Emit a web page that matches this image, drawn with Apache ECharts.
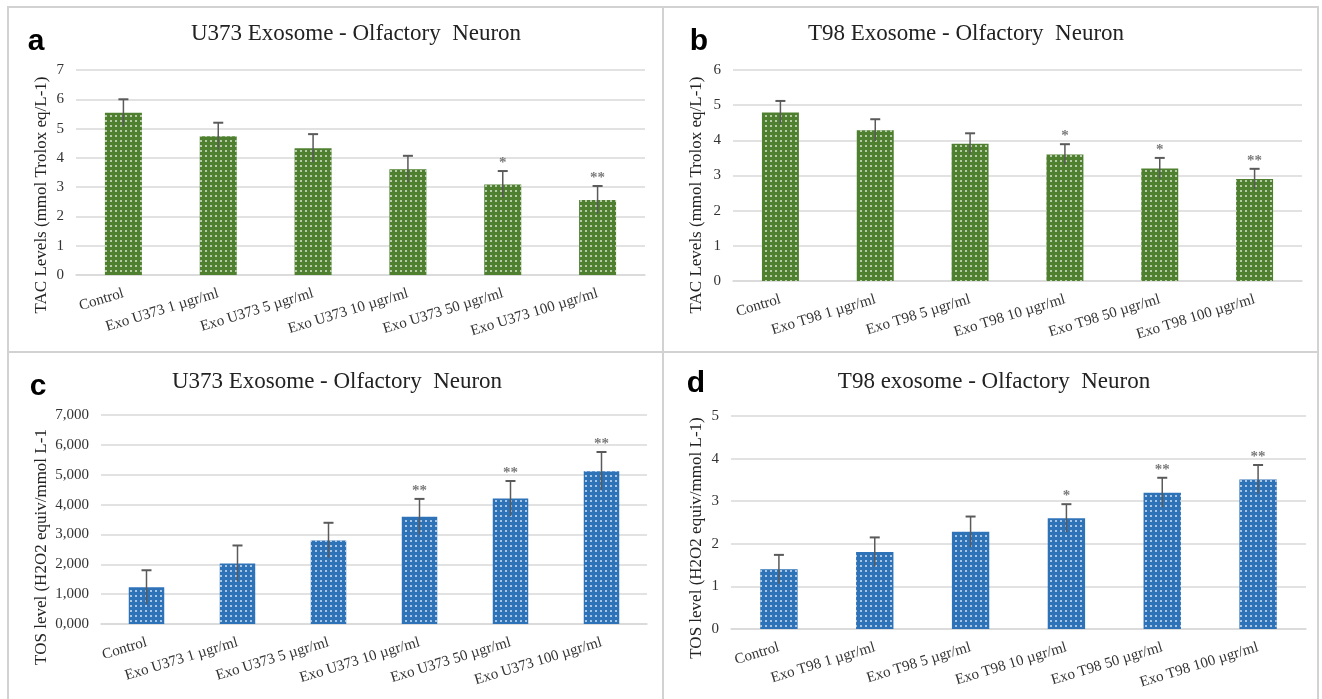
<!DOCTYPE html>
<html>
<head>
<meta charset="utf-8">
<script src="https://cdn.jsdelivr.net/npm/echarts@6/dist/echarts.min.js"></script>
<style>
html,body{margin:0;padding:0;background:#fff;}
#chart{width:1322px;height:699px;}
</style>
</head>
<body>
<div id="chart"></div>
<script>
// ---------- data ----------
const categoriesU373 = ['Control', 'Exo U373 1 µgr/ml', 'Exo U373 5 µgr/ml', 'Exo U373 10 µgr/ml', 'Exo U373 50 µgr/ml', 'Exo U373 100 µgr/ml'];
const categoriesT98 = ['Control', 'Exo T98 1 µgr/ml', 'Exo T98 5 µgr/ml', 'Exo T98 10 µgr/ml', 'Exo T98 50 µgr/ml', 'Exo T98 100 µgr/ml'];

const tacU373 = [5.54, 4.74, 4.33, 3.61, 3.09, 2.56];
const tacU373Err = [0.46, 0.46, 0.48, 0.46, 0.46, 0.48];
const tacU373Sig = ['', '', '', '', '*', '**'];

const tacT98 = [4.79, 4.29, 3.90, 3.60, 3.20, 2.90];
const tacT98Err = [0.33, 0.31, 0.30, 0.29, 0.30, 0.29];
const tacT98Sig = ['', '', '', '*', '*', '**'];

const tosU373 = [1.23, 2.03, 2.80, 3.59, 4.20, 5.12];
const tosU373Err = [0.57, 0.60, 0.59, 0.60, 0.59, 0.64];
const tosU373Sig = ['', '', '', '**', '**', '**'];

const tosT98 = [1.40, 1.81, 2.28, 2.60, 3.20, 3.51];
const tosT98Err = [0.34, 0.34, 0.36, 0.33, 0.35, 0.34];
const tosT98Sig = ['', '', '', '*', '**', '**'];

const tosU373TickLabels = ['0,000', '1,000', '2,000', '3,000', '4,000', '5,000', '6,000', '7,000'];

const titles = ['U373 Exosome - Olfactory  Neuron', 'T98 Exosome - Olfactory  Neuron', 'U373 Exosome - Olfactory  Neuron', 'T98 exosome - Olfactory  Neuron'];
const panelLetters = ['a', 'b', 'c', 'd'];
const yNames = ['TAC Levels (mmol Trolox eq/L-1)', 'TAC Levels (mmol Trolox eq/L-1)', 'TOS level (H2O2 equiv/mmol L-1', 'TOS level (H2O2 equiv/mmol L-1)'];

// ---------- styling ----------
const SERIF = '"Liberation Serif", "Times New Roman", serif';
const GREEN = '#4e8030';
const BLUE = '#2e72b8';
const GRID_C = '#d9d9d9';
const ERR_C = '#5a5a5a';

const panels = [
  {grid: {left: 76, top: 70, width: 569, height: 205}, cats: categoriesU373, vals: tacU373, err: tacU373Err, sig: tacU373Sig, color: GREEN, max: 7, labels: null,
   title: [356, 34], letter: [36, 42], yname: [42, 195]},
  {grid: {left: 733, top: 70, width: 569, height: 211}, cats: categoriesT98, vals: tacT98, err: tacT98Err, sig: tacT98Sig, color: GREEN, max: 6, labels: null,
   title: [966, 34], letter: [699, 42], yname: [697, 195]},
  {grid: {left: 101, top: 415, width: 546, height: 209}, cats: categoriesU373, vals: tosU373, err: tosU373Err, sig: tosU373Sig, color: BLUE, max: 7, labels: tosU373TickLabels,
   title: [337, 382], letter: [38, 387], yname: [42, 547]},
  {grid: {left: 731, top: 416, width: 575, height: 213}, cats: categoriesT98, vals: tosT98, err: tosT98Err, sig: tosT98Sig, color: BLUE, max: 5, labels: null,
   title: [994, 382], letter: [696, 384], yname: [697, 538]}
];

const grids = [], xAxes = [], yAxes = [], series = [], graphics = [];

// panel borders
const borderStyle = {stroke: '#d2d2d2', lineWidth: 2, fill: null};
graphics.push({type: 'rect', shape: {x: 8, y: 7, width: 655, height: 345}, style: borderStyle, silent: true});
graphics.push({type: 'rect', shape: {x: 663, y: 7, width: 655, height: 345}, style: borderStyle, silent: true});
graphics.push({type: 'rect', shape: {x: 8, y: 352, width: 655, height: 360}, style: borderStyle, silent: true});
graphics.push({type: 'rect', shape: {x: 663, y: 352, width: 655, height: 360}, style: borderStyle, silent: true});

panels.forEach((p, k) => {
  grids.push(Object.assign({containLabel: false}, p.grid));
  xAxes.push({
    type: 'category', gridIndex: k, data: p.cats,
    axisLine: {show: true, lineStyle: {color: GRID_C, width: 1.5}},
    axisTick: {show: false},
    axisLabel: {interval: 0, rotate: 17, margin: 18, fontFamily: SERIF, fontSize: 15, color: '#333'}
  });
  const labels = p.labels;
  yAxes.push({
    type: 'value', gridIndex: k, min: 0, max: p.max, interval: 1,
    axisLine: {show: false}, axisTick: {show: false},
    splitLine: {lineStyle: {color: GRID_C, width: 1.5}},
    axisLabel: {margin: 12, fontFamily: SERIF, fontSize: 15, color: '#333',
      formatter: labels ? (v) => labels[Math.round(v)] : (v) => String(v)}
  });
  series.push({
    type: 'bar', xAxisIndex: k, yAxisIndex: k, barWidth: '39%', data: p.vals,
    itemStyle: {
      color: p.color,
      decal: {
        symbol: 'circle', symbolSize: 1, color: 'rgba(255,255,255,0.8)',
        dashArrayX: [2, 3], dashArrayY: [2, 3], rotation: 0
      }
    },
    emphasis: {disabled: true},
    animation: false
  });
  const err = p.err, sig = p.sig;
  series.push({
    type: 'custom', xAxisIndex: k, yAxisIndex: k, z: 5, animation: false,
    data: p.vals.map((v, i) => [i, v]),
    renderItem: function (params, api) {
      const i = api.value(0), v = api.value(1), e = err[params.dataIndex];
      const top = api.coord([i, v + e]);
      const bot = api.coord([i, v - e]);
      const cap = 5;
      const children = [
        {type: 'line', shape: {x1: top[0], y1: top[1], x2: bot[0], y2: bot[1]}, style: {stroke: ERR_C, lineWidth: 1.5}},
        {type: 'line', shape: {x1: top[0] - cap, y1: top[1], x2: top[0] + cap, y2: top[1]}, style: {stroke: ERR_C, lineWidth: 2}}
      ];
      const s = sig[params.dataIndex];
      if (s) {
        children.push({type: 'text', x: top[0], y: top[1] - 8,
          style: {text: s, fill: '#7a7a7a', font: 'bold 15px ' + SERIF, textAlign: 'center', textVerticalAlign: 'middle', align: 'center', verticalAlign: 'middle'}});
      }
      return {type: 'group', children: children};
    }
  });
  graphics.push({type: 'text', x: p.title[0], y: p.title[1],
    style: {text: titles[k], font: '23px ' + SERIF, fill: '#222', textAlign: 'center', textVerticalAlign: 'middle', align: 'center', verticalAlign: 'middle'}});
  graphics.push({type: 'text', x: p.letter[0], y: p.letter[1],
    style: {text: panelLetters[k], font: 'bold 30px "Liberation Sans", Arial, sans-serif', fill: '#000', textAlign: 'center', textVerticalAlign: 'middle', align: 'center', verticalAlign: 'middle'}});
  graphics.push({type: 'text', x: p.yname[0], y: p.yname[1], rotation: Math.PI / 2,
    style: {text: yNames[k], font: '17px ' + SERIF, fill: '#222', textAlign: 'center', textVerticalAlign: 'middle', align: 'center', verticalAlign: 'middle'}});
});

const chart = echarts.init(document.getElementById('chart'), null, {renderer: 'canvas'});
chart.setOption({
  backgroundColor: '#fff',
  animation: false,
  grid: grids, xAxis: xAxes, yAxis: yAxes, series: series,
  graphic: graphics
});
</script>
</body>
</html>
